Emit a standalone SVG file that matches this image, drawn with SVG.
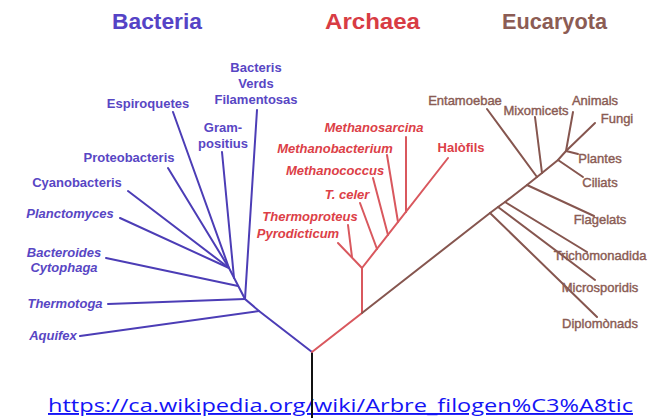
<svg xmlns="http://www.w3.org/2000/svg" width="661" height="418" viewBox="0 0 661 418">
<style>
.bg{fill:#ffffff}
.t{font-family:"Liberation Sans",Arial,sans-serif}
.title{font-size:22px;font-weight:bold}
.b{fill:#5846c4;font-size:13px;font-weight:bold}
.a{fill:#dc4047;font-size:13px;font-weight:bold;font-style:italic}
.e{fill:#8a5b53;font-size:13px;stroke:#8a5b53;stroke-width:0.4}
.i{font-style:italic}
.lb{stroke:#4c3db6;stroke-width:2;fill:none;stroke-linecap:round}
.la{stroke:#d9585e;stroke-width:2;fill:none;stroke-linecap:round}
.le{stroke:#86564f;stroke-width:2;fill:none;stroke-linecap:round}
.lr{stroke:#111111;stroke-width:2;fill:none}
.link{font-family:"Open Sans","Noto Sans",sans-serif;font-size:19px;fill:#1414f5;text-decoration:underline}
</style>
<rect class="bg" x="0" y="0" width="661" height="418"/>

<g id="titles">
<text id="title-bacteria" class="t title" x="112" y="29" fill="#5543c6" textLength="90" lengthAdjust="spacingAndGlyphs">Bacteria</text>
<text id="title-archaea" class="t title" x="325" y="29" fill="#d83c44" textLength="95" lengthAdjust="spacingAndGlyphs">Archaea</text>
<text id="title-eucaryota" class="t title" x="502" y="29" fill="#8c5c54" textLength="105" lengthAdjust="spacingAndGlyphs">Eucaryota</text>
</g>

<text class="link" x="48" y="412" textLength="585" lengthAdjust="spacingAndGlyphs">https://ca.wikipedia.org/wiki/Arbre_filogen%C3%A8tic</text>

<g id="connectors">
<line class="lr" x1="312" y1="352" x2="312" y2="418"/>
<!-- Bacteria -->
<polyline class="lb" points="312,352 259,311 245,299 229,268"/>
<line class="lb" x1="259" y1="311" x2="80" y2="336"/>
<line class="lb" x1="245" y1="299" x2="108" y2="304"/>
<line class="lb" x1="245" y1="299" x2="257" y2="110"/>
<line class="lb" x1="238" y1="286" x2="106" y2="258"/>
<line class="lb" x1="234" y1="278" x2="222" y2="152"/>
<line class="lb" x1="229" y1="268" x2="120" y2="218"/>
<line class="lb" x1="229" y1="268" x2="128" y2="191"/>
<line class="lb" x1="229" y1="268" x2="168" y2="168"/>
<line class="lb" x1="229" y1="268" x2="173" y2="112"/>
<!-- Archaea -->
<polyline class="la" points="312,352 362,313 362,268 448,158"/>
<line class="la" x1="362" y1="268" x2="338" y2="243"/>
<line class="la" x1="352" y1="257" x2="348" y2="225"/>
<line class="la" x1="377" y1="249" x2="360" y2="203"/>
<line class="la" x1="388" y1="235" x2="373" y2="178"/>
<line class="la" x1="398" y1="222" x2="387" y2="155"/>
<line class="la" x1="406" y1="212" x2="406" y2="137"/>
<!-- Eucaryota -->
<polyline class="le" points="362,313 490,213 498,207 505,202 527,185 537,177 542,173 558,160 566,151"/>
<line class="le" x1="537" y1="177" x2="487" y2="109"/>
<line class="le" x1="542" y1="173" x2="535" y2="117"/>
<line class="le" x1="566" y1="151" x2="573" y2="112"/>
<line class="le" x1="566" y1="151" x2="595" y2="123"/>
<line class="le" x1="566" y1="151" x2="578" y2="154"/>
<line class="le" x1="558" y1="160" x2="583" y2="177"/>
<line class="le" x1="527" y1="185" x2="594" y2="216"/>
<line class="le" x1="505" y1="202" x2="587" y2="252"/>
<line class="le" x1="498" y1="207" x2="595" y2="280"/>
<line class="le" x1="490" y1="213" x2="597" y2="317"/>
</g>

<g id="bacteria-labels">
<g id="n-verds"><text class="t b" text-anchor="middle" x="256" y="72">Bacteris</text><text class="t b" text-anchor="middle" x="256" y="88">Verds</text><text class="t b" text-anchor="middle" x="256" y="104">Filamentosas</text></g>
<g id="n-espiroquetes"><text class="t b" text-anchor="middle" x="148" y="108">Espiroquetes</text></g>
<g id="n-gram"><text class="t b" text-anchor="middle" x="223" y="132">Gram-</text><text class="t b" text-anchor="middle" x="223" y="148">positius</text></g>
<g id="n-proteo"><text class="t b" text-anchor="middle" x="129" y="162">Proteobacteris</text></g>
<g id="n-cyano"><text class="t b" text-anchor="middle" x="77" y="187">Cyanobacteris</text></g>
<g id="n-plancto"><text class="t b i" text-anchor="middle" x="70" y="218">Planctomyces</text></g>
<g id="n-bactero"><text class="t b i" text-anchor="middle" x="64" y="257">Bacteroides</text><text class="t b i" text-anchor="middle" x="64" y="272">Cytophaga</text></g>
<g id="n-thermotoga"><text class="t b i" text-anchor="middle" x="65" y="308">Thermotoga</text></g>
<g id="n-aquifex"><text class="t b i" text-anchor="middle" x="53" y="340">Aquifex</text></g>
</g>

<g id="archaea-labels">
<g id="n-msarcina"><text class="t a" text-anchor="middle" x="374" y="132">Methanosarcina</text></g>
<g id="n-mbacterium"><text class="t a" text-anchor="middle" x="335" y="153">Methanobacterium</text></g>
<g id="n-mcoccus"><text class="t a" text-anchor="middle" x="335" y="175">Methanococcus</text></g>
<g id="n-tceler"><text class="t a" text-anchor="middle" x="347" y="199">T. celer</text></g>
<g id="n-thermoproteus"><text class="t a" text-anchor="middle" x="310" y="221">Thermoproteus</text></g>
<g id="n-pyrodicticum"><text class="t a" text-anchor="middle" x="298" y="238">Pyrodicticum</text></g>
<g id="n-halofils"><text class="t a" style="font-style:normal" text-anchor="middle" x="461" y="152">Halòfils</text></g>
</g>

<g id="eucaryota-labels">
<g id="n-entamoebae"><text class="t e" text-anchor="middle" x="465" y="105">Entamoebae</text></g>
<g id="n-mixomicets"><text class="t e" text-anchor="middle" x="536" y="115">Mixomicets</text></g>
<g id="n-animals"><text class="t e" text-anchor="middle" x="595" y="105">Animals</text></g>
<g id="n-fungi"><text class="t e" text-anchor="middle" x="617" y="123">Fungi</text></g>
<g id="n-plantes"><text class="t e" text-anchor="middle" x="600" y="163">Plantes</text></g>
<g id="n-ciliats"><text class="t e" text-anchor="middle" x="600" y="187">Ciliats</text></g>
<g id="n-flagelats"><text class="t e" text-anchor="middle" x="600" y="224">Flagelats</text></g>
<g id="n-tricho"><text class="t e" text-anchor="middle" x="600" y="260">Trichomonadida</text></g>
<g id="n-micro"><text class="t e" text-anchor="middle" x="600" y="292">Microsporidis</text></g>
<g id="n-diplo"><text class="t e" text-anchor="middle" x="600" y="328">Diplomònads</text></g>
</g>
</svg>
